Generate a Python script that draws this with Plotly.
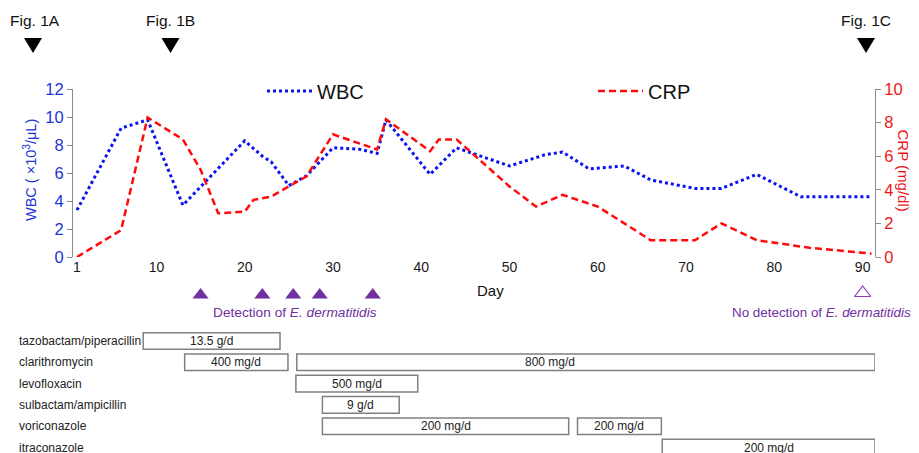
import plotly.graph_objects as go

FONT = "Liberation Sans, Arial, sans-serif"
BLUE_TXT = "#2233D6"
RED_TXT = "#F01515"
PURPLE = "#7030A0"

# ---------------- data ----------------
wbc_day = [1, 6, 9, 13, 20, 22, 23, 25, 27, 30, 33, 35, 36, 41, 44, 50, 54, 56, 59, 63, 66, 71, 74, 78, 83, 91]
wbc_val = [3.35, 9.2, 9.8, 3.7, 8.3, 7.2, 6.8, 5.1, 5.8, 7.8, 7.7, 7.4, 9.8, 5.9, 7.8, 6.5, 7.3, 7.5, 6.3, 6.5, 5.5, 4.9, 4.9, 5.9, 4.3, 4.3]

crp_day = [1, 6, 9, 13, 15, 17, 20, 21, 23, 25, 27, 30, 35, 36, 41, 42, 44, 50, 53, 56, 60, 63, 66, 71, 74, 78, 84, 91]
crp_val = [0.0, 1.6, 8.3, 7.0, 5.2, 2.6, 2.7, 3.4, 3.6, 4.2, 4.8, 7.3, 6.4, 8.2, 6.3, 7.0, 7.0, 4.2, 3.0, 3.7, 3.0, 2.0, 1.0, 1.0, 2.0, 1.0, 0.55, 0.2]

detect_days = [15, 22, 25.5, 28.5, 34.5]
nodetect_days = [90]

fig_labels = ["Fig. 1A", "Fig. 1B", "Fig. 1C"]

x_ticks = [1, 10, 20, 30, 40, 50, 60, 70, 80, 90]

drug_names = ["tazobactam/piperacillin", "clarithromycin", "levofloxacin",
              "sulbactam/ampicillin", "voriconazole", "itraconazole"]
reg_row = [0, 1, 1, 2, 3, 4, 4, 5]
reg_start = [8.5, 13.2, 25.9, 25.8, 28.8, 28.8, 57.7, 67.3]
reg_end = [24.0, 24.9, 91.4, 39.6, 37.5, 56.7, 67.2, 91.4]
reg_dose = ["13.5 g/d", "400 mg/d", "800 mg/d", "500 mg/d", "9 g/d", "200 mg/d", "200 mg/d", "200 mg/d"]

# ---------------- layout helpers (screen pixel -> paper) ----------------
H_AREA = 364.0   # plot-area height in px


def py(px):
    return (453 - px) / H_AREA


def px_x(px):
    return (px - 73) / 802.0


ROW_TOP_PX, ROW_STEP_PX = 341.0, 21.3


def row_v(px):
    return (px - ROW_TOP_PX) / ROW_STEP_PX


# ---------------- figure ----------------
fig = go.Figure()

fig.add_trace(go.Scatter(
    x=wbc_day, y=wbc_val, mode="lines", name="WBC",
    line=dict(color="#0A14F0", width=3, dash="dot"),
    xaxis="x", yaxis="y", legend="legend"))
fig.add_trace(go.Scatter(
    x=crp_day, y=crp_val, mode="lines", name="CRP",
    line=dict(color="#FF0A0A", width=2.5, dash="7px,4px"),
    xaxis="x", yaxis="y2", legend="legend2"))

# drug regimens
fig.add_trace(go.Bar(
    orientation="h", y=reg_row, base=reg_start,
    x=[e - s for s, e in zip(reg_start, reg_end)],
    width=0.78,
    marker=dict(color="white", line=dict(color="#808080", width=1.5)),
    showlegend=False, hoverinfo="skip",
    xaxis="x2", yaxis="y3"))

# detection markers
fig.add_trace(go.Scatter(
    x=detect_days, y=[row_v(295)] * len(detect_days), mode="markers",
    marker=dict(symbol="triangle-up", size=14, color=PURPLE),
    showlegend=False, hoverinfo="skip", xaxis="x2", yaxis="y3"))
fig.add_trace(go.Scatter(
    x=nodetect_days, y=[row_v(293)] * len(nodetect_days), mode="markers",
    marker=dict(symbol="triangle-up-open", size=14, color="#8A40B8", line=dict(width=1.2)),
    showlegend=False, hoverinfo="skip", xaxis="x2", yaxis="y3"))

# figure reference arrows (drawn in page space)
fig_arrow_px = [33, 170.5, 866]
shapes = []
for cx in fig_arrow_px:
    x0, x1, xm = px_x(cx - 9), px_x(cx + 9), px_x(cx)
    y0, y1 = py(38), py(53)
    shapes.append(dict(type="path", xref="paper", yref="paper",
                       path=f"M {x0} {y0} L {x1} {y0} L {xm} {y1} Z",
                       fillcolor="black", line=dict(width=0)))

annotations = []
for lab, cx in zip(fig_labels, [35, 170, 866]):
    annotations.append(dict(x=px_x(cx), xref="paper", y=py(20), yref="paper", text=lab,
                            showarrow=False, font=dict(size=15.5, color="#111"),
                            xanchor="center", yanchor="middle"))

annotations += [
    dict(x=px_x(30), xref="paper", y=py(170), yref="paper",
         text="WBC ( \u00d710<sup>3</sup>/\u03bcL)", textangle=-90, showarrow=False,
         font=dict(size=14.5, color=BLUE_TXT), xanchor="center", yanchor="middle"),
    dict(x=px_x(903.5), xref="paper", y=py(170), yref="paper",
         text="CRP (mg/dl)", textangle=90, showarrow=False,
         font=dict(size=15, color=RED_TXT), xanchor="center", yanchor="middle"),
    dict(x=px_x(491), xref="paper", y=py(290), yref="paper", text="Day",
         showarrow=False, font=dict(size=15, color="#111"), xanchor="center", yanchor="middle"),
    dict(x=px_x(295), xref="paper", y=py(312), yref="paper",
         text="Detection of <i>E. dermatitidis</i>", showarrow=False,
         font=dict(size=13.7, color=PURPLE), xanchor="center", yanchor="middle"),
    dict(x=px_x(821), xref="paper", y=py(312), yref="paper",
         text="No detection of <i>E. dermatitidis</i>", showarrow=False,
         font=dict(size=13.4, color=PURPLE), xanchor="center", yanchor="middle"),
]

for i, name in enumerate(drug_names):
    annotations.append(dict(x=px_x(17), xref="paper", y=i, yref="y3", text=name,
                            showarrow=False, font=dict(size=12, color="#222"),
                            xanchor="left", yanchor="middle"))

dose_shift = [0, 0, -36, 0, 0, 0, 0, 0]
for r, s, e, t, sh in zip(reg_row, reg_start, reg_end, reg_dose, dose_shift):
    annotations.append(dict(x=(s + e) / 2, xref="x2", y=r, yref="y3", text=t,
                            xshift=sh, showarrow=False, font=dict(size=12, color="#222"),
                            xanchor="center", yanchor="middle"))

axis_common = dict(showgrid=False, zeroline=False, showline=True, linecolor="#8c8c8c",
                   linewidth=1, ticks="outside", ticklen=5, tickcolor="#8c8c8c",
                   automargin=False)

legend_common = dict(orientation="h", xanchor="left", y=py(91), yanchor="middle",
                     font=dict(size=20, color="#111"), bgcolor="rgba(0,0,0,0)",
                     itemwidth=45)

fig.update_layout(
    width=919, height=445,
    margin=dict(l=65, r=52, t=81, b=0, autoexpand=False),
    paper_bgcolor="white", plot_bgcolor="white",
    font=dict(family=FONT),
    xaxis=dict(domain=[0, 1], range=[0.55, 91.4], tickvals=x_ticks,
               showgrid=False, zeroline=False, showline=False, ticks="",
               tickfont=dict(size=14, color="#1a1a1a"), anchor="y", automargin=False),
    yaxis=dict(domain=[py(257), 1], range=[0, 12], dtick=2,
               tickfont=dict(size=16.5, color=BLUE_TXT), anchor="x", **axis_common),
    yaxis2=dict(overlaying="y", side="right", range=[0, 10], dtick=2,
                tickfont=dict(size=16.5, color=RED_TXT), anchor="x", **axis_common),
    xaxis2=dict(matches="x", anchor="y3", visible=False, domain=[0, 1], automargin=False),
    yaxis3=dict(domain=[0, py(283)], range=[row_v(453), row_v(283)],
                visible=False, anchor="x2", automargin=False),
    legend=dict(x=px_x(262), **legend_common),
    legend2=dict(x=px_x(593), **legend_common),
    shapes=shapes,
    annotations=annotations,
    showlegend=True,
)

fig.write_html("out.html")
